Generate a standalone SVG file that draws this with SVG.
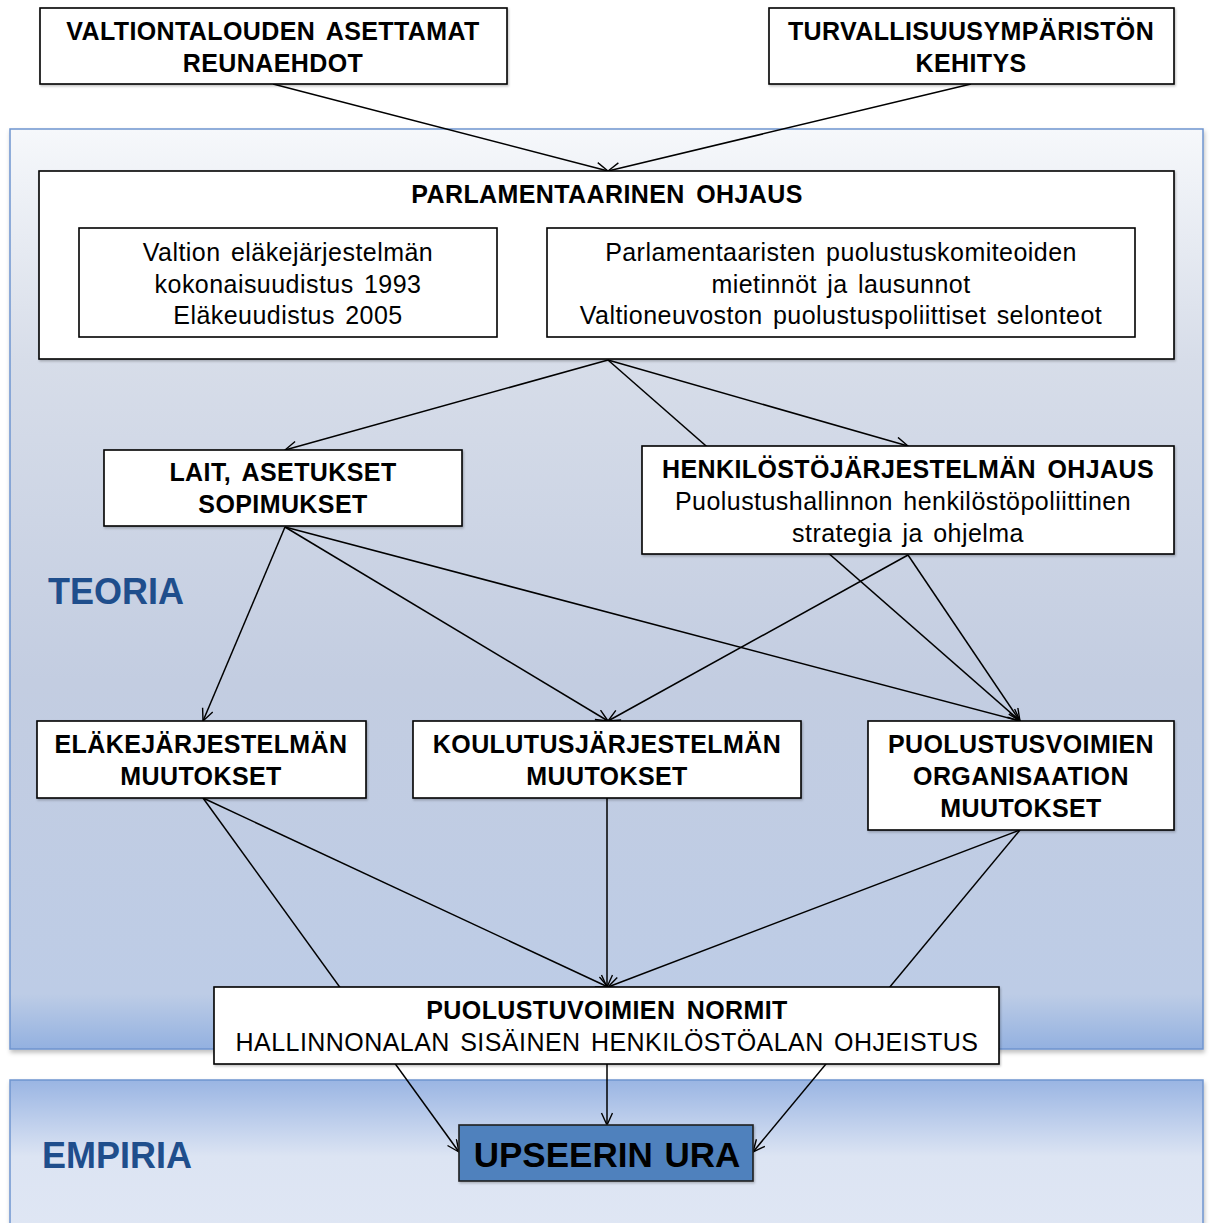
<svg xmlns="http://www.w3.org/2000/svg" width="1211" height="1223" viewBox="0 0 1211 1223">
<defs>
<linearGradient id="gTeoria" x1="0" y1="0" x2="0" y2="1">
<stop offset="0" stop-color="#f6f8fb"/>
<stop offset="0.25" stop-color="#d7dde9"/>
<stop offset="0.6" stop-color="#c3cde1"/>
<stop offset="0.94" stop-color="#bdcce6"/>
<stop offset="1" stop-color="#93b1e0"/>
</linearGradient>
<linearGradient id="gEmpiria" x1="0" y1="0" x2="0" y2="1">
<stop offset="0" stop-color="#9ab5e3"/>
<stop offset="0.45" stop-color="#dce4f3"/>
<stop offset="1" stop-color="#e0e7f4"/>
</linearGradient>
<filter id="panelShadow" x="-5%" y="-5%" width="110%" height="110%">
<feDropShadow dx="1" dy="3" stdDeviation="2" flood-color="#000" flood-opacity="0.25"/>
</filter>
<filter id="boxShadow" x="-5%" y="-10%" width="110%" height="120%">
<feDropShadow dx="1" dy="1.5" stdDeviation="1" flood-color="#000" flood-opacity="0.25"/>
</filter>
<marker id="arr" markerUnits="userSpaceOnUse" markerWidth="16" markerHeight="14" refX="13" refY="6" orient="auto">
<path d="M1,0.5 L13,6 L1,11.5" fill="none" stroke="#000" stroke-width="1.4"/>
</marker>
</defs>
<style>
.panel{stroke:#6f95cf;stroke-width:1.5;filter:url(#panelShadow)}
.box{fill:#fff;stroke:#000;stroke-width:1.6;filter:url(#boxShadow)}
.inner{fill:#fff;stroke:#000;stroke-width:1.6}
.b{font-family:"Liberation Sans",Arial,sans-serif;font-weight:bold;font-size:25px;fill:#000;text-anchor:middle;word-spacing:4px;letter-spacing:0.4px}
.r{font-family:"Liberation Sans",Arial,sans-serif;font-size:25px;fill:#000;text-anchor:middle;word-spacing:3px;letter-spacing:0.45px}
.lbl{font-family:"Liberation Sans",Arial,sans-serif;font-weight:bold;font-size:36px;fill:#1f4e8c}
.con line{stroke:#000;stroke-width:1.5;fill:none}
.con .a{marker-end:url(#arr)}
</style>
<rect width="1211" height="1223" fill="#fff"/>
<g id="panel-teoria">
<rect class="panel" x="10" y="129" width="1193" height="920" fill="url(#gTeoria)"/>
<text class="lbl" x="48" y="604">TEORIA</text>
</g>
<g id="panel-empiria">
<rect class="panel" x="10" y="1080" width="1193" height="170" fill="url(#gEmpiria)"/>
<text class="lbl" x="42" y="1168" fill="#1f497d">EMPIRIA</text>
</g>
<g id="connectors" class="con">
<line class="a" x1="273" y1="84" x2="608" y2="171"/>
<line class="a" x1="971" y1="84" x2="608" y2="171"/>
<line class="a" x1="608" y1="360" x2="285" y2="450"/>
<line class="a" x1="608" y1="360" x2="908" y2="446"/>
<line class="a" x1="608" y1="360" x2="1020" y2="721"/>
<line class="a" x1="285" y1="527" x2="203" y2="721"/>
<line class="a" x1="285" y1="527" x2="608" y2="721"/>
<line class="a" x1="285" y1="527" x2="1020" y2="721"/>
<line class="a" x1="908" y1="555" x2="608" y2="721"/>
<line class="a" x1="908" y1="555" x2="1020" y2="721"/>
<line class="a" x1="203" y1="798" x2="608" y2="987"/>
<line class="a" x1="203" y1="798" x2="459" y2="1152"/>
<line class="a" x1="607" y1="798" x2="607" y2="987"/>
<line class="a" x1="1020" y1="830" x2="608" y2="987"/>
<line class="a" x1="1020" y1="830" x2="753" y2="1152"/>
<line class="a" x1="607" y1="1064" x2="607" y2="1125"/>
</g>
<g id="node-valtiontalous">
<rect class="box" x="40" y="8" width="467" height="76"/>
<text class="b" x="273" y="40">VALTIONTALOUDEN ASETTAMAT</text>
<text class="b" x="273" y="72">REUNAEHDOT</text>
</g>
<g id="node-turvallisuus">
<rect class="box" x="769" y="8" width="405" height="76"/>
<text class="b" x="971" y="40">TURVALLISUUSYMPÄRISTÖN</text>
<text class="b" x="971" y="72">KEHITYS</text>
</g>
<g id="node-parlamentaarinen">
<rect class="box" x="39" y="171" width="1135" height="188"/>
<text class="b" x="607" y="203">PARLAMENTAARINEN OHJAUS</text>
<rect class="inner" x="79" y="228" width="418" height="109"/>
<text class="r" x="288" y="261">Valtion eläkejärjestelmän</text>
<text class="r" x="288" y="293">kokonaisuudistus 1993</text>
<text class="r" x="288" y="324">Eläkeuudistus 2005</text>
<rect class="inner" x="547" y="228" width="588" height="109"/>
<text class="r" x="841" y="261">Parlamentaaristen puolustuskomiteoiden</text>
<text class="r" x="841" y="293">mietinnöt ja lausunnot</text>
<text class="r" x="841" y="324">Valtioneuvoston puolustuspoliittiset selonteot</text>
</g>
<g id="node-lait">
<rect class="box" x="104" y="450" width="358" height="76"/>
<text class="b" x="283" y="481">LAIT, ASETUKSET</text>
<text class="b" x="283" y="513">SOPIMUKSET</text>
</g>
<g id="node-henkilosto">
<rect class="box" x="642" y="446" width="532" height="108"/>
<text class="b" x="908" y="478">HENKILÖSTÖJÄRJESTELMÄN OHJAUS</text>
<text class="r" x="903" y="510">Puolustushallinnon henkilöstöpoliittinen</text>
<text class="r" x="908" y="542">strategia ja ohjelma</text>
</g>
<g id="node-elake">
<rect class="box" x="37" y="721" width="329" height="77"/>
<text class="b" x="201" y="753">ELÄKEJÄRJESTELMÄN</text>
<text class="b" x="201" y="785">MUUTOKSET</text>
</g>
<g id="node-koulutus">
<rect class="box" x="413" y="721" width="388" height="77"/>
<text class="b" x="607" y="753">KOULUTUSJÄRJESTELMÄN</text>
<text class="b" x="607" y="785">MUUTOKSET</text>
</g>
<g id="node-organisaatio">
<rect class="box" x="868" y="721" width="306" height="109"/>
<text class="b" x="1021" y="753">PUOLUSTUSVOIMIEN</text>
<text class="b" x="1021" y="785">ORGANISAATION</text>
<text class="b" x="1021" y="817">MUUTOKSET</text>
</g>
<g id="node-normit">
<rect class="box" x="214" y="987" width="785" height="77"/>
<text class="b" x="607" y="1019">PUOLUSTUVOIMIEN NORMIT</text>
<text class="r" x="607" y="1051">HALLINNONALAN SISÄINEN HENKILÖSTÖALAN OHJEISTUS</text>
</g>
<g id="node-upseerin-ura">
<rect x="459" y="1125" width="294" height="56" fill="#4f81bd" stroke="#1f1f1f" stroke-width="1.6" filter="url(#boxShadow)"/>
<text class="b" x="607" y="1167" style="font-size:35px;letter-spacing:0;word-spacing:2px">UPSEERIN URA</text>
</g>
</svg>
